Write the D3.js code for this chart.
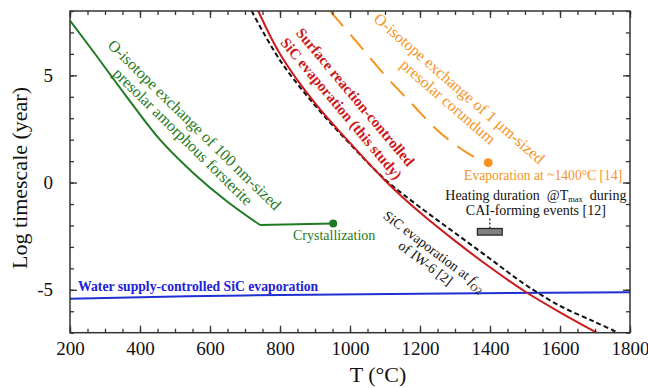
<!DOCTYPE html>
<html><head><meta charset="utf-8">
<script src="https://cdn.jsdelivr.net/npm/d3@7"></script>
<style>
body{margin:0;background:#fff}
svg{display:block}
text{font-family:"Liberation Serif","Times New Roman",serif}
</style>
</head><body><svg id="c" width="648" height="388"></svg>
<script>
// ---- data ----
const xMajorTicks = [200,400,600,800,1000,1200,1400,1600,1800];
const yMajorTicks = [-5,0,5];
const forsteriteT = [200,267,362,457,552,648,743];
const forsteriteLog = [7.55,6.1,4.0,2.0,0.45,-0.87,-1.98];
const crystT = [743,952];
const crystLog = [-1.98,-1.91];
const surfaceT = [738,800,900,1000,1100,1200,1300,1400,1500,1600,1705];
const surfaceLog = [8.0,6.0,3.7,1.85,0.1,-1.4,-2.72,-3.95,-5.08,-6.05,-7.0];
const iw6T = [719,800,900,1000,1100,1200,1300,1400,1500,1600,1700,1766];
const iw6Log = [8.0,5.7,3.6,1.8,0.15,-1.15,-2.35,-3.55,-4.75,-5.75,-6.5,-7.0];
const corundumT = [943,1017,1100,1177,1257,1343,1395];
const corundumLog = [8.0,6.6,5.0,3.67,2.33,1.3,0.93];
const waterT = [200,700,1800];
const waterLog = [-5.42,-5.26,-5.11];
const caiT = [1364,1435];
const caiLog = [-2.14,-2.45];
const caiLeaderLog = [-2.14,-1.63];

// ---- layout ----
const svg = d3.select("#c");
const L=70, R=630, T=11, B=332.7;
const x = d3.scaleLinear().domain([200,1800]).range([L,R]);
const y = d3.scaleLinear().domain([-7,8]).range([B,T]);
const axisColor = "#333";

svg.append("defs").append("clipPath").attr("id","clip")
  .append("rect").attr("x",L).attr("y",T).attr("width",R-L).attr("height",B-T);

const plot = svg.append("g").attr("clip-path","url(#clip)");
const zip = (a,b)=>a.map((v,i)=>[v,b[i]]);
const line = d3.line().x(d=>x(d[0])).y(d=>y(d[1])).curve(d3.curveCatmullRom.alpha(0.5));
const lin = d3.line().x(d=>x(d[0])).y(d=>y(d[1]));

const cGreen="#1f7a24", cRed="#cc1a1a", cOrange="#f7931e", cBlue="#1f2fd4";

plot.append("path").attr("d",line(zip(waterT,waterLog))).attr("fill","none").attr("stroke",cBlue).attr("stroke-width",2);
plot.append("path").attr("d",line(zip(forsteriteT,forsteriteLog))).attr("fill","none").attr("stroke",cGreen).attr("stroke-width",2);
plot.append("path").attr("d",lin(zip(crystT,crystLog))).attr("fill","none").attr("stroke",cGreen).attr("stroke-width",2);
plot.append("path").attr("d",line(zip(corundumT,corundumLog))).attr("fill","none").attr("stroke",cOrange).attr("stroke-width",2).attr("stroke-dasharray","20,11");
plot.append("path").attr("d",line(zip(iw6T,iw6Log))).attr("fill","none").attr("stroke","#111").attr("stroke-width",2).attr("stroke-dasharray","5,3");
plot.append("path").attr("d",line(zip(surfaceT,surfaceLog))).attr("fill","none").attr("stroke",cRed).attr("stroke-width",2);

// markers
svg.append("circle").attr("cx",x(crystT[1])).attr("cy",y(crystLog[1])).attr("r",4).attr("fill",cGreen);
svg.append("circle").attr("cx",x(corundumT[corundumT.length-1])).attr("cy",y(corundumLog[corundumLog.length-1])).attr("r",4.5).attr("fill",cOrange);

// CAI box
svg.append("line").attr("x1",x(d3.mean(caiT))).attr("x2",x(d3.mean(caiT)))
  .attr("y1",y(caiLeaderLog[0])).attr("y2",y(caiLeaderLog[1])).attr("stroke","#222").attr("stroke-width",1.3).attr("stroke-dasharray","2,2");
svg.append("rect").attr("x",x(caiT[0])).attr("y",y(caiLog[0])).attr("width",x(caiT[1])-x(caiT[0])).attr("height",y(caiLog[1])-y(caiLog[0]))
  .attr("fill","#7f7f7f").attr("stroke","#222").attr("stroke-width",1.2);

// ---- axes ----
const xMinor = d3.range(200,1801,50);
const yMinor = d3.range(-7,9,1);
function styleAxis(g){ g.select(".domain").remove(); g.selectAll("line").attr("stroke",axisColor).attr("stroke-width",1.3); }
svg.append("g").attr("transform",`translate(0,${B})`).call(d3.axisBottom(x).tickValues(xMinor).tickSize(-4).tickFormat("")).call(styleAxis);
svg.append("g").attr("transform",`translate(0,${T})`).call(d3.axisTop(x).tickValues(xMinor).tickSize(-4).tickFormat("")).call(styleAxis);
svg.append("g").attr("transform",`translate(${L},0)`).call(d3.axisLeft(y).tickValues(yMinor).tickSize(-4).tickFormat("")).call(styleAxis);
svg.append("g").attr("transform",`translate(${R},0)`).call(d3.axisRight(y).tickValues(yMinor).tickSize(-4).tickFormat("")).call(styleAxis);

const xb = svg.append("g").attr("transform",`translate(0,${B})`).call(d3.axisBottom(x).tickValues(xMajorTicks).tickSize(-7).tickPadding(9).tickFormat(d3.format("d")));
styleAxis(xb); xb.selectAll("text").attr("font-size",19).attr("fill","#111").attr("font-family","Liberation Serif");
const xt = svg.append("g").attr("transform",`translate(0,${T})`).call(d3.axisTop(x).tickValues(xMajorTicks).tickSize(-7).tickFormat(""));
styleAxis(xt);
const yl = svg.append("g").attr("transform",`translate(${L},0)`).call(d3.axisLeft(y).tickValues(yMajorTicks).tickSize(-7).tickPadding(17).tickFormat(d=>String(d)));
styleAxis(yl); yl.selectAll("text").attr("font-size",19).attr("fill","#111").attr("font-family","Liberation Serif");
const yr = svg.append("g").attr("transform",`translate(${R},0)`).call(d3.axisRight(y).tickValues(yMajorTicks).tickSize(-7).tickFormat(""));
styleAxis(yr);

svg.append("rect").attr("x",L).attr("y",T).attr("width",R-L).attr("height",B-T).attr("fill","none").attr("stroke",axisColor).attr("stroke-width",1.5);

// axis titles
svg.append("text").attr("x",378).attr("y",382).attr("text-anchor","middle").attr("font-size",22).attr("fill","#111").text("T (°C)");
svg.append("text").attr("transform","translate(27,178) rotate(-90)").attr("text-anchor","middle").attr("font-size",22).attr("fill","#111").text("Log timescale (year)");

// ---- annotations ----
function rotLabel(t, v, ang, lines, opts){
  const g = svg.append("text").attr("transform",`translate(${x(t)},${y(v)}) rotate(${ang})`)
    .attr("text-anchor","middle").attr("font-size",opts.size).attr("fill",opts.color)
    .attr("font-weight",opts.bold?"bold":"normal");
  const n=lines.length, sp=opts.sp;
  lines.forEach((l,i)=>{
    const ts = g.append("tspan").attr("x",0).attr("y",(i-(n-1)/2)*sp + opts.size*0.3);
    if(typeof l==="function") l(ts); else ts.text(l);
  });
  return g;
}
rotLabel(538,2.40,44.5,["O-isotope exchange of 100 nm-sized","presolar amorphous forsterite"],{size:16,color:cGreen,sp:16.5});
rotLabel(994,3.70,50,["Surface reaction-controlled","SiC evaporation (this study)"],{size:15,color:cRed,sp:18,bold:true});
rotLabel(1295,4.06,41,["O-isotope exchange of 1 μm-sized","presolar corundum"],{size:16,color:cOrange,sp:17.5});
rotLabel(1228,-3.49,37,[
  ts=>{ ts.text("SiC evaporation at "); ts.append("tspan").attr("font-style","italic").text("f");
        ts.append("tspan").attr("font-size",10).attr("dy",4).text("O2"); },
  ts=>{ ts.text("of IW-6 [2]"); }
],{size:14,color:"#111",sp:15});

svg.append("text").attr("x",x(1326)).attr("y",y(0.14)).attr("font-size",13.6).attr("fill",cOrange).text("Evaporation at ~1400°C [14]");
const h = svg.append("text").attr("x",x(1531)).attr("y",y(-0.80)).attr("text-anchor","middle").attr("font-size",14).attr("fill","#111").attr("xml:space","preserve");
h.append("tspan").text("Heating duration  @T");
h.append("tspan").attr("font-size",8.5).attr("dy",2).text("max");
h.append("tspan").attr("dy",-2).text("  during");
svg.append("text").attr("x",x(1531)).attr("y",y(-1.50)).attr("text-anchor","middle").attr("font-size",14).attr("fill","#111").text("CAI-forming events [12]");
svg.append("text").attr("x",x(837)).attr("y",y(-2.70)).attr("font-size",14).attr("fill",cGreen).text("Crystallization");
svg.append("text").attr("x",x(223)).attr("y",y(-5.07)).attr("font-size",13.7).attr("font-weight","bold").attr("fill","#2121d6").text("Water supply-controlled SiC evaporation");
</script></body></html>
